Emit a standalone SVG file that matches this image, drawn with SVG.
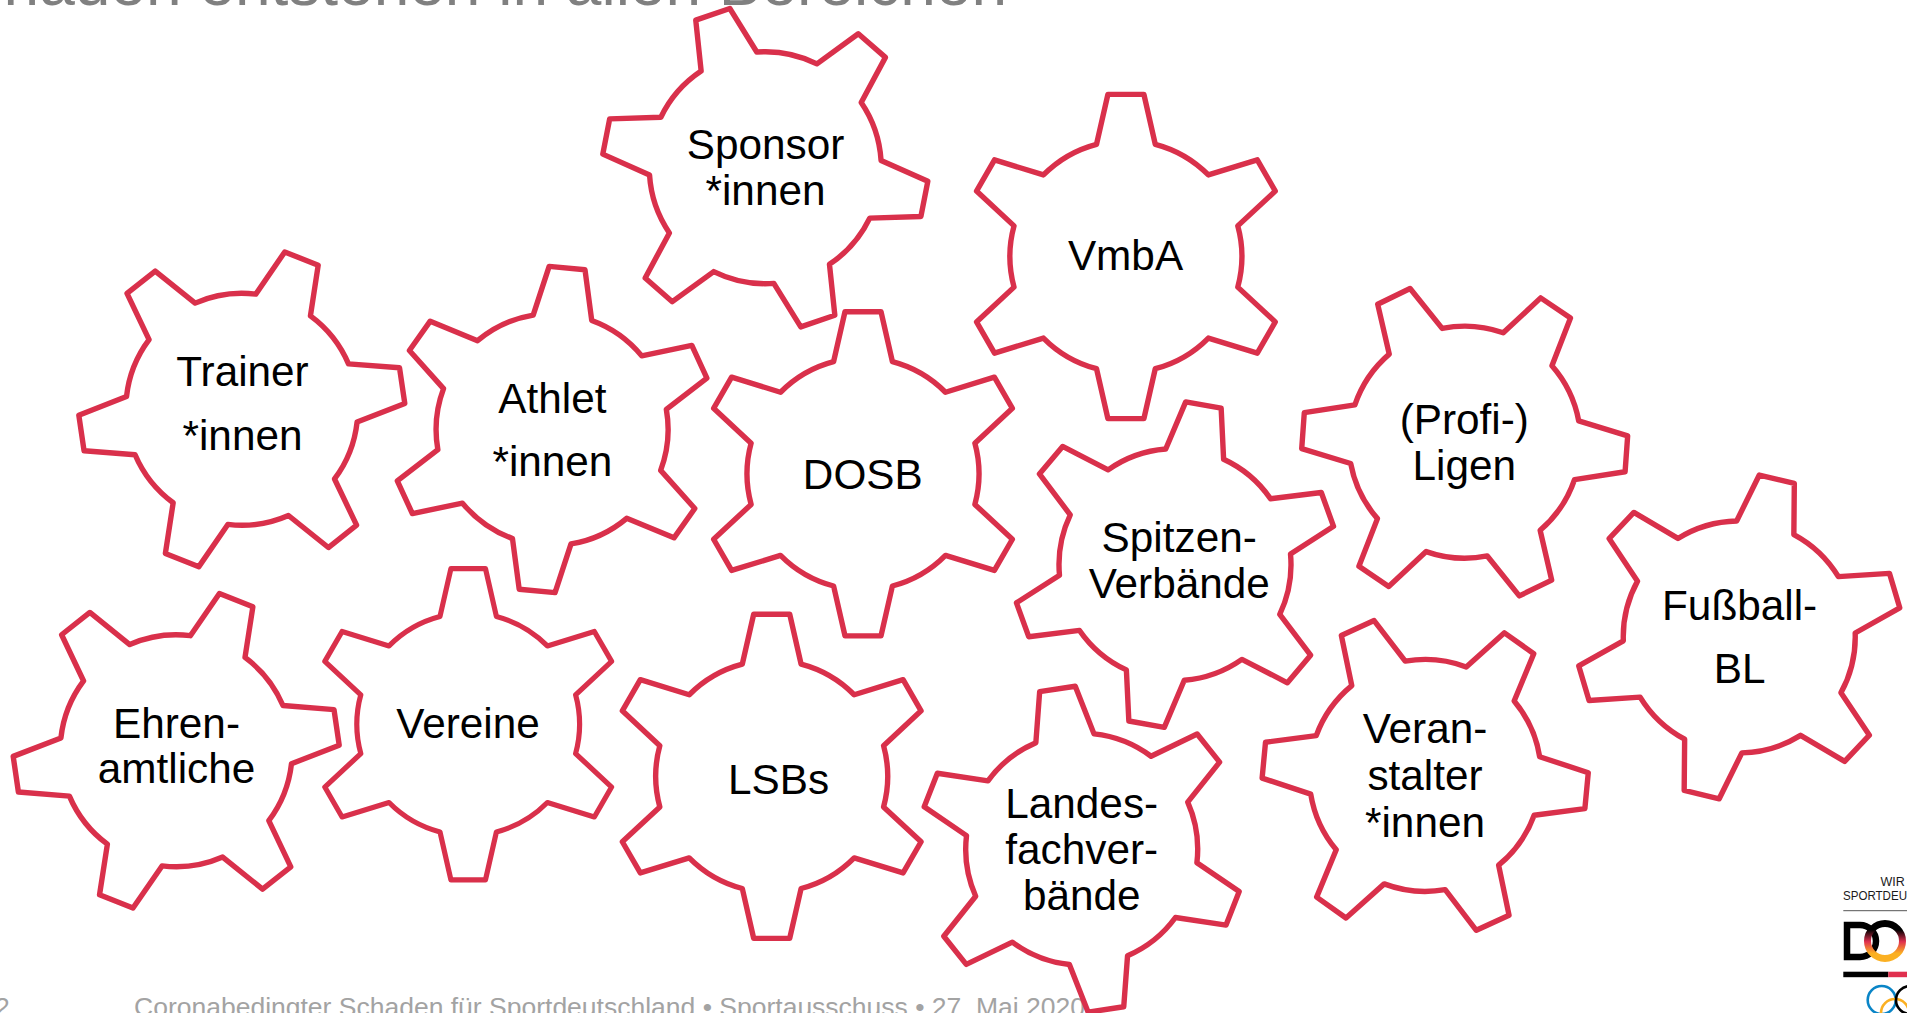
<svg xmlns="http://www.w3.org/2000/svg" width="1907" height="1013" viewBox="0 0 1907 1013">
<style>
.gear{fill:#fff;stroke:#d9304b;stroke-width:5.4;stroke-linejoin:round}
.lbl{font-family:"Liberation Sans",Arial,sans-serif;font-size:42.3px;fill:#000;text-anchor:middle;transform:translate(0,1px)}
.title{font-family:"Liberation Sans",Arial,sans-serif;font-size:64px;fill:#808080;text-anchor:end}
.foot{font-family:"Liberation Sans",Arial,sans-serif;font-size:26.5px;fill:#a3a3a3}
.logo{font-family:"Liberation Sans",Arial,sans-serif;font-size:12.5px;fill:#1a1a1a}
</style>
<defs>
<path id="g" d="M-29.4-112.2L-18-162.1H18L29.4-112.2A116 116 0 0 1 82.47-81.56L131.38-96.64L149.38-65.46L111.87-30.64A116 116 0 0 1 111.87 30.64L149.38 65.46L131.38 96.64L82.47 81.56A116 116 0 0 1 29.4 112.2L18 162.1H-18L-29.4 112.2A116 116 0 0 1 -82.47 81.56L-131.38 96.64L-149.38 65.46L-111.87 30.64A116 116 0 0 1 -111.87 -30.64L-149.38 -65.46L-131.38 -96.64L-82.47 -81.56A116 116 0 0 1 -29.4 -112.2Z"/>
<linearGradient id="ring" x1="0" y1="0" x2="0" y2="1">
<stop offset="0.18" stop-color="#000"/>
<stop offset="0.52" stop-color="#e0304f"/>
<stop offset="0.85" stop-color="#fbb022"/>
</linearGradient>
</defs>
<rect width="1907" height="1013" fill="#fff"/>
<text id="title" class="title" x="1007" y="5">haden entstehen in allen Bereichen</text>
<text id="page" class="foot" x="-5" y="1016">2</text>
<text id="footer" class="foot" x="134" y="1016">Coronabedingter Schaden für Sportdeutschland • Sportausschuss • 27. Mai 2020</text>

<g id="logo">
<text class="logo" x="1880.5" y="885.7">WIR</text>
<text class="logo" x="1843" y="900" textLength="64" lengthAdjust="spacingAndGlyphs">SPORTDEU</text>
<path d="M1843.3 910.7H1907" stroke="#555" stroke-width="1" fill="none"/>
<path d="M1847 925H1860A16 16 0 0 1 1860 957H1847Z" stroke="#000" stroke-width="6.5" fill="none"/>
<circle cx="1885" cy="941" r="17.5" fill="none" stroke="url(#ring)" stroke-width="7"/>
<rect x="1843.3" y="971.7" width="45" height="5.5" fill="#000"/>
<rect x="1888.3" y="971.7" width="19" height="5.5" fill="#e0304f"/>
<g fill="none" stroke-width="2.6">
<circle cx="1881.7" cy="1000" r="14" stroke="#0a85c7"/>
<circle cx="1895" cy="1013" r="14" stroke="#fbb022"/>
<circle cx="1910" cy="1000" r="14" stroke="#000"/>
</g>
</g>

<g id="sponsor"><use href="#g" class="gear" transform="translate(765.3 167.7) rotate(-18.9)"/><text class="lbl" x="765.5" y="158">Sponsor</text><text class="lbl" x="765.5" y="204">*innen</text></g>
<g id="vmba"><use href="#g" class="gear" transform="translate(1125.9 256.5)"/><text class="lbl" x="1125.5" y="269.4">VmbA</text></g>
<g id="trainer"><use href="#g" class="gear" transform="translate(241.8 409.3) rotate(21.6)"/><text class="lbl" x="242.5" y="385.3">Trainer</text><text class="lbl" x="242.5" y="449.3">*innen</text></g>
<g id="athlet"><use href="#g" class="gear" transform="translate(552.1 429.5) rotate(5.3)"/><text class="lbl" x="552.4" y="411.7">Athlet</text><text class="lbl" x="552.4" y="475.3">*innen</text></g>
<g id="dosb"><use href="#g" class="gear" transform="translate(863 473.8)"/><text class="lbl" x="862.8" y="487.7">DOSB</text></g>
<g id="profi"><use href="#g" class="gear" transform="translate(1464.7 442.2) rotate(-25.9)"/><text class="lbl" x="1464.3" y="432.7">(Profi-)</text><text class="lbl" x="1464.3" y="478.6">Ligen</text></g>
<g id="spitzen"><use href="#g" class="gear" transform="translate(1175 564.6) rotate(10.1)"/><text class="lbl" x="1179.2" y="550.5">Spitzen-</text><text class="lbl" x="1179.2" y="596.8">Verbände</text></g>
<g id="fussball"><use href="#g" class="gear" transform="translate(1739.25 636.9) rotate(13.4)"/><text class="lbl" x="1739.6" y="618.7">Fußball-</text><text class="lbl" x="1739.6" y="682.3">BL</text></g>
<g id="ehren"><use href="#g" class="gear" transform="translate(176.2 750.8) rotate(21.7)"/><text class="lbl" x="176.5" y="736.7">Ehren-</text><text class="lbl" x="176.5" y="782.3">amtliche</text></g>
<g id="vereine"><use href="#g" class="gear" transform="translate(468.2 724.2) scale(.96)"/><text class="lbl" x="468" y="737.3">Vereine</text></g>
<g id="lsbs"><use href="#g" class="gear" transform="translate(771.7 776.3)"/><text class="lbl" x="778.5" y="792.7">LSBs</text></g>
<g id="landes"><use href="#g" class="gear" transform="translate(1081.7 849.2) rotate(-8.6)"/><text class="lbl" x="1081.7" y="817.3">Landes-</text><text class="lbl" x="1081.7" y="863.3">fachver-</text><text class="lbl" x="1081.7" y="909.3">bände</text></g>
<g id="veranstalter"><use href="#g" class="gear" transform="translate(1425.2 775.4) rotate(-24.6)"/><text class="lbl" x="1425" y="742.3">Veran-</text><text class="lbl" x="1425" y="789.3">stalter</text><text class="lbl" x="1425" y="835.7">*innen</text></g>
</svg>
